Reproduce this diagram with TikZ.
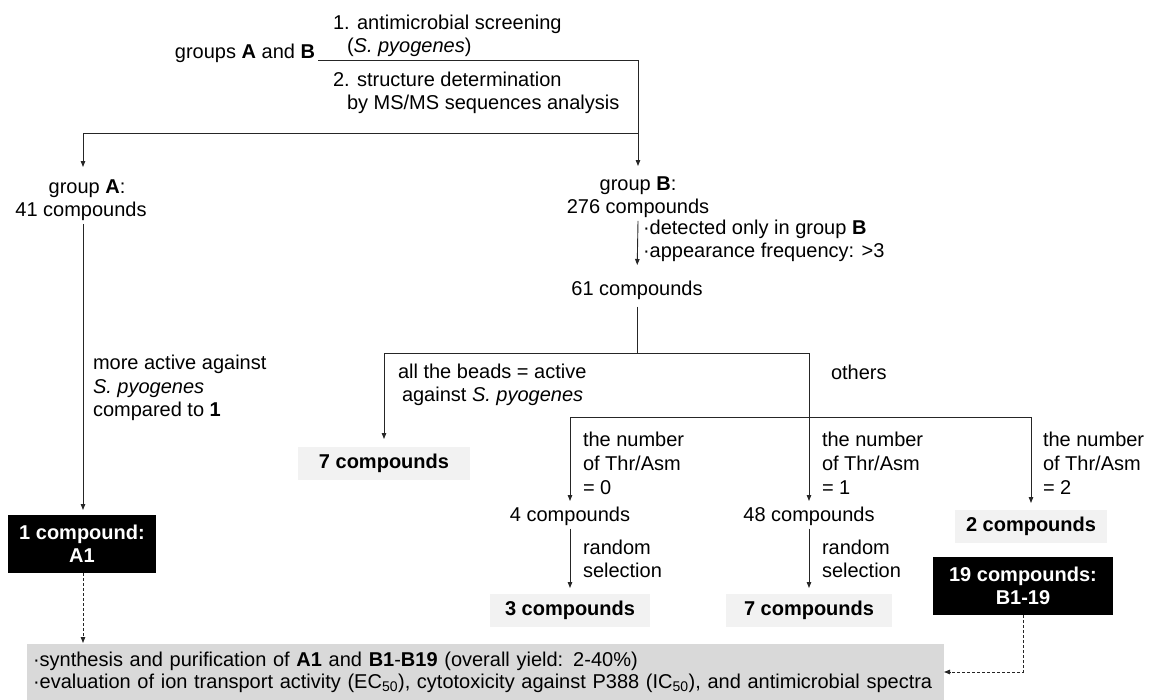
\documentclass[tikz,border=0pt]{standalone}
\usepackage{fontspec}
\setmainfont{Liberation Sans}
\usetikzlibrary{arrows.meta}
\newcommand{\fsz}{\fontsize{20}{23}\selectfont}
\newcommand{\fszt}{\fontsize{20}{24}\selectfont}
\begin{document}
\begin{tikzpicture}[x=1pt,y=-1pt,
  every node/.style={font=\fsz, inner sep=0pt, outer sep=3pt},
  lbl/.style={align=left},
  ctr/.style={align=center},
  conn/.style={draw=black!85, line width=0.9pt},
  arr/.style={conn, -{Triangle[length=6pt,width=4.5pt]}},
  darr/.style={conn, dash pattern=on 3pt off 2pt, -{Triangle[length=6pt,width=4.5pt]}},
  lgbox/.style={fill=black!5, font=\fsz\bfseries, minimum height=33pt, outer sep=0pt},
  bkbox/.style={fill=black, text=white, font=\fsz\bfseries, align=center, outer sep=0pt},
]
\useasboundingbox (0,0) rectangle (1150,699);

% top
\node[anchor=base east] (gab) at (318,58) {groups \textbf{A} and \textbf{B}};
\node[lbl, anchor=north west] (s1) at (330,12) {1. antimicrobial screening\\\hspace*{14pt}(\textit{S. pyogenes})};
\node[lbl, anchor=north west] (s2) at (330,69) {2. structure determination\\\hspace*{14pt}by MS/MS sequences analysis};
\coordinate (c1) at (638,60);
\coordinate (j1) at (638,133);
\coordinate (c2) at (83,133);
\draw[conn] (gab.east |- c1) -- (c1) -- (j1);

\node[ctr, anchor=north] (ga) at (81,177) {\hspace*{12pt}group \textbf{A}:\\41 compounds};
\node[ctr, anchor=north] (gb) at (638,174) {group \textbf{B}:\\276 compounds};
\draw[arr, shorten >=8pt] (j1) -- (gb.north);
\draw[arr, shorten >=10pt] (j1) -- (c2) -- (ga.north -| c2);

% group B branch
\node[anchor=north] (n61) at (637,278) {61 compounds};
\draw[arr, shorten >=13pt] (gb.south) -- (n61.north);
\node[lbl, anchor=north west] (det) at (640,217) {·detected only in group \textbf{B}\\·appearance frequency: >3};

\coordinate (j2) at (637,353);
\coordinate (j2L) at (384,353);
\coordinate (j2R) at (809,353);
\draw[conn, shorten <=4pt] (n61.south) -- (j2);
\draw[conn] (j2L) -- (j2R);

\node[lgbox, anchor=north, minimum width=172pt] (b7a) at (384,447) {7 compounds};
\draw[arr, shorten >=8pt] (j2L) -- (b7a.north);
\node[lbl, anchor=north west] (beads) at (395,361) {all the beads = active\\\hspace*{4pt}against \textit{S. pyogenes}};
\node[anchor=west] (oth) at (828,372) {others};

\coordinate (j3L) at (570,417);
\coordinate (j3R) at (1031,417);
\draw[conn] (j3L) -- (j3R);

\node[anchor=north] (n4) at (570,504) {4 compounds};
\node[anchor=north] (n48) at (809,504) {48 compounds};
\node[lgbox, anchor=north, minimum width=152pt] (b2) at (1031,510) {2 compounds};
\draw[arr, shorten >=3pt] (j3L) -- (n4.north);
\draw[arr, shorten >=3pt] (j2R) -- (n48.north);
\draw[arr, shorten >=7pt] (j3R) -- (b2.north);

\node[lbl, font=\fszt, anchor=north west] (t0) at (580,429) {the number\\of Thr/Asm\\= 0};
\node[lbl, font=\fszt, anchor=north west] (t1) at (819,429) {the number\\of Thr/Asm\\= 1};
\node[lbl, font=\fszt, anchor=north west] (t2) at (1040,429) {the number\\of Thr/Asm\\= 2};

\node[lgbox, anchor=north, minimum width=160pt] (b3) at (570,594) {3 compounds};
\node[lgbox, anchor=north, minimum width=166pt] (b7b) at (809,594) {7 compounds};
\draw[arr, shorten >=6pt] (n4.south) -- (b3.north);
\draw[arr, shorten >=6pt] (n48.south) -- (b7b.north);
\node[lbl, anchor=north west] (r0) at (580,537) {random\\selection};
\node[lbl, anchor=north west] (r1) at (819,537) {random\\selection};

% group A branch
\node[bkbox, anchor=north, minimum width=148pt, minimum height=58pt] (a1) at (82,515) {1 compound:\\A1};
\draw[arr, shorten >=5pt] (ga.south -| c2) -- (a1.north -| c2);
\node[lbl, font=\fontsize{20}{23.5}\selectfont, anchor=north west] (more) at (90,352) {more active against\\\textit{S. pyogenes}\\compared to \textbf{1}};

\node[bkbox, anchor=north, minimum width=180pt, minimum height=58pt] (b119) at (1023,557) {19 compounds:\\B1-19};

% bottom
\node[fill=black!15, font=\fontsize{20}{22}\selectfont, anchor=north west, minimum width=917pt, minimum height=56pt, align=left, text width=905pt, inner xsep=6pt, inner ysep=0pt, outer sep=0pt] (bot) at (27,644)
  {·synthesis and purification of \textbf{A1} and \textbf{B1}-\textbf{B19} (overall yield: 2-40\%)\\
   ·evaluation of ion transport activity (EC\textsubscript{50}), cytotoxicity against P388 (IC\textsubscript{50}), and antimicrobial spectra};
\draw[darr, shorten >=1pt] (a1.south -| c2) -- (bot.north -| c2);
\draw[darr] (b119.south) |- (bot.east);
\end{tikzpicture}
\end{document}
